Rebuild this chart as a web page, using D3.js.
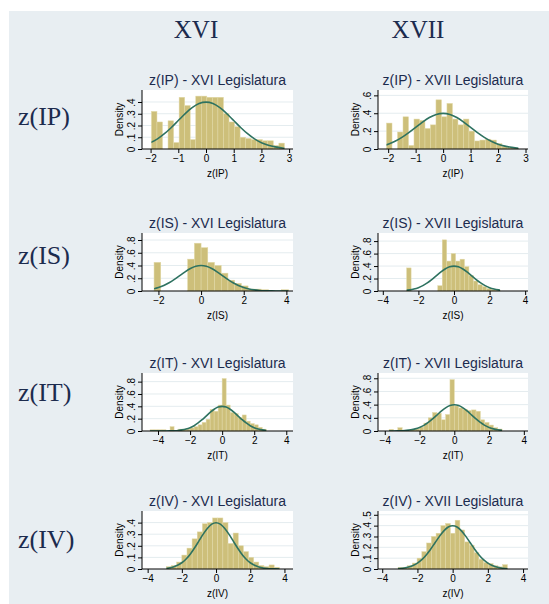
<!DOCTYPE html>
<html>
<head>
<meta charset="utf-8">
<script src="https://cdn.jsdelivr.net/npm/d3@7"></script>
<style>
  body { margin: 0; background: #fff; }
  svg { display: block; }
</style>
</head>
<body>
<svg id="chart"></svg>
<script>
// Data: panels in row-major order (IP XVI, IP XVII, IS XVI, IS XVII, IT XVI, IT XVII, IV XVI, IV XVII)
const variables = ["IP", "IS", "IT", "IV"];
const legislatures = ["XVI", "XVII"];

const binStarts = [-1.97, -2.06, -2.205, -2.66, -4.5, -3.75, -2.9, -3.1];
const binWidths = [0.2, 0.2, 0.315, 0.25, 0.25, 0.25, 0.3, 0.27];

const densities = [
    [0.32, 0.23, 0, 0.24, 0.055, 0.44, 0.37, 0.08, 0.45, 0.45, 0.44, 0.44, 0.44, 0.3, 0.23, 0.19, 0.1, 0.09, 0.08, 0.08, 0.07, 0.07, 0.03, 0.05],
    [0.29, 0, 0.19, 0.36, 0.04, 0.335, 0.32, 0.23, 0.27, 0.55, 0.36, 0.51, 0.335, 0.27, 0.335, 0.2, 0.09, 0.1, 0.11, 0.1, 0.06, 0.03, 0.02, 0.01],
    [0.45, 0, 0, 0, 0, 0.5, 0.75, 0.68, 0.45, 0.4, 0.28, 0.17, 0.12, 0.08, 0.03, 0.03, 0.02, 0, 0, 0.02],
    [0.37, 0, 0, 0, 0, 0, 0, 0.085, 0.82, 0.48, 0.6, 0.48, 0.51, 0.39, 0.25, 0.16, 0.1, 0.07, 0.04, 0.02, 0.01],
    [0.02, 0.02, 0.02, 0.02, 0, 0.07, 0, 0.03, 0.03, 0.03, 0.05, 0.07, 0.1, 0.14, 0.19, 0.35, 0.32, 0.42, 0.85, 0.42, 0.3, 0.28, 0.22, 0.26, 0.16, 0.12, 0.1, 0.06, 0.03],
    [0.025, 0, 0.05, 0.01, 0.01, 0.02, 0.03, 0.06, 0.12, 0.2, 0.28, 0.27, 0.17, 0.25, 0.78, 0.38, 0.35, 0.33, 0.31, 0.32, 0.3, 0.17, 0.13, 0.09, 0.05, 0.03],
    [0.02, 0.03, 0.06, 0.12, 0.18, 0.26, 0.32, 0.39, 0.4, 0.44, 0.44, 0.4, 0.22, 0.31, 0.2, 0.15, 0.1, 0.06, 0.03, 0.02, 0.035, 0.015],
    [0.015, 0.015, 0.03, 0.055, 0.1, 0.16, 0.24, 0.3, 0.33, 0.4, 0.42, 0.33, 0.45, 0.36, 0.25, 0.22, 0.15, 0.09, 0.06, 0.05, 0.03, 0.02, 0.04]
];

// normal density overlay, read at steps of 0.25 from -4.5 to 4.5
const normalX = [-4.5, -4.25, -4, -3.75, -3.5, -3.25, -3, -2.75, -2.5, -2.25, -2, -1.75, -1.5, -1.25, -1, -0.75, -0.5, -0.25, 0,
    0.25, 0.5, 0.75, 1, 1.25, 1.5, 1.75, 2, 2.25, 2.5, 2.75, 3, 3.25, 3.5, 3.75, 4, 4.25, 4.5];
const normalY = [0, 0, 0.0001, 0.0004, 0.0009, 0.002, 0.0044, 0.009, 0.018, 0.032, 0.054, 0.086, 0.13, 0.183, 0.242, 0.301, 0.352, 0.387, 0.399,
    0.387, 0.352, 0.301, 0.242, 0.183, 0.13, 0.086, 0.054, 0.032, 0.018, 0.009, 0.0044, 0.002, 0.0009, 0.0004, 0.0001, 0, 0];

const xTicks = [
    [-2, -1, 0, 1, 2, 3], [-2, -1, 0, 1, 2, 3],
    [-2, 0, 2, 4], [-4, -2, 0, 2, 4],
    [-4, -2, 0, 2, 4], [-4, -2, 0, 2, 4],
    [-4, -2, 0, 2, 4], [-4, -2, 0, 2, 4]
];
const yTicks = [
    [0, 0.1, 0.2, 0.3, 0.4], [0, 0.2, 0.4, 0.6],
    [0, 0.2, 0.4, 0.6, 0.8], [0, 0.2, 0.4, 0.6, 0.8],
    [0, 0.2, 0.4, 0.6, 0.8], [0, 0.2, 0.4, 0.6, 0.8],
    [0, 0.1, 0.2, 0.3, 0.4], [0, 0.1, 0.2, 0.3, 0.4, 0.5]
];
const xDomains = [[-2.31, 3.14], [-2.37, 3.09], [-2.77, 4.31], [-4.27, 4.16],
    [-5.0, 4.42], [-4.39, 4.24], [-4.33, 4.5], [-4.24, 4.28]];
const yMax = [0.502, 0.66, 0.91, 0.93, 0.94, 0.88, 0.50, 0.535];

// Layout
const W = 549, H = 604;
const colLeft = [142, 378], colRight = [293, 528];
const rowTop = [90, 233, 373, 511], rowBottom = [149, 291, 431, 569];
const headerX = [196, 418];
const rowLabelY = [125, 264, 401, 548];

const navy = "#1c2b4e";
const barFill = "#cdbf7a";
const curveColor = "#2e7260";
const sans = "Liberation Sans, Arial, sans-serif";

const svg = d3.select("#chart").attr("width", W).attr("height", H);

svg.append("rect").attr("width", W).attr("height", H).attr("fill", "#fff");
svg.append("rect").attr("x", 9).attr("y", 11).attr("width", W - 9).attr("height", H - 11).attr("fill", "#e8eef2");

// column headers
svg.selectAll(".header").data(legislatures).enter().append("text")
    .attr("x", (d, i) => headerX[i]).attr("y", 38)
    .attr("text-anchor", "middle")
    .attr("font-family", "Liberation Serif, Times New Roman, serif")
    .attr("font-size", 25).attr("fill", navy)
    .text(d => d);

// row labels
svg.selectAll(".rowlabel").data(variables).enter().append("text")
    .attr("x", 18).attr("y", (d, i) => rowLabelY[i])
    .attr("font-family", "Liberation Serif, Times New Roman, serif")
    .attr("font-size", 26).attr("fill", navy)
    .text(d => `z(${d})`);

const tickFmt = d => d === 0 ? "0" : d3.format(".1f")(d).replace(/^0/, "");

variables.forEach((v, r) => {
    legislatures.forEach((leg, c) => {
        const p = r * 2 + c;
        const left = colLeft[c], right = colRight[c];
        const top = rowTop[r], bottom = rowBottom[r];

        const x = d3.scaleLinear().domain(xDomains[p]).range([left, right]);
        const y = d3.scaleLinear().domain([0, yMax[p]]).range([bottom, top]);
        const g = svg.append("g");

        // plot region
        g.append("rect").attr("x", left).attr("y", top)
            .attr("width", right - left).attr("height", bottom - top)
            .attr("fill", "#fff");

        // grid
        g.selectAll(".grid").data(yTicks[p].filter(t => t > 0)).enter().append("line")
            .attr("x1", left).attr("x2", right)
            .attr("y1", d => y(d)).attr("y2", d => y(d))
            .attr("stroke", "#e4ecef").attr("stroke-width", 1);

        // bars
        const bins = densities[p].map((h, i) => ({
            x0: binStarts[p] + i * binWidths[p],
            x1: binStarts[p] + (i + 1) * binWidths[p],
            h: h
        })).filter(b => b.h > 0);

        g.selectAll(".bar").data(bins).enter().append("rect")
            .attr("x", d => x(d.x0))
            .attr("width", d => x(d.x1) - x(d.x0))
            .attr("y", d => y(d.h))
            .attr("height", d => y(0) - y(d.h))
            .attr("fill", barFill)
            .attr("stroke", "#e2d9a8").attr("stroke-width", 0.5);

        // normal curve, limited to the data range
        const lo = binStarts[p], hi = binStarts[p] + densities[p].length * binWidths[p];
        const clipId = "clip" + p;
        svg.append("clipPath").attr("id", clipId).append("rect")
            .attr("x", x(lo)).attr("y", top - 5)
            .attr("width", x(hi) - x(lo)).attr("height", bottom - top + 5);

        const line = d3.line()
            .x(d => x(d[0])).y(d => y(d[1]))
            .curve(d3.curveMonotoneX);
        g.append("path")
            .datum(normalX.map((xv, i) => [xv, normalY[i]]))
            .attr("clip-path", `url(#${clipId})`)
            .attr("d", line)
            .attr("fill", "none")
            .attr("stroke", curveColor).attr("stroke-width", 1.6);

        // axes
        const xAxis = g.append("g").attr("transform", `translate(0,${bottom})`)
            .call(d3.axisBottom(x).tickValues(xTicks[p]).tickSize(4).tickSizeOuter(0).tickFormat(d3.format("d")));
        xAxis.select(".domain").attr("d", `M${left},0H${right}`);
        const yAxis = g.append("g").attr("transform", `translate(${left},0)`)
            .call(d3.axisLeft(y).tickValues(yTicks[p]).tickSize(4).tickSizeOuter(0).tickFormat(tickFmt));
        yAxis.select(".domain").attr("d", `M0,${top}V${bottom}`);

        [xAxis, yAxis].forEach(a => {
            a.selectAll("path, line").attr("stroke", "#000");
            a.selectAll("text").attr("font-family", sans)
                .attr("font-size", 10).attr("fill", "#000");
        });
        xAxis.selectAll("text").attr("y", 6).attr("dy", "0.71em");
        // vertical y labels, like Stata
        yAxis.selectAll("text")
            .attr("x", null).attr("y", null)
            .attr("text-anchor", "middle")
            .attr("transform", "translate(-11,0) rotate(-90)")
            .attr("dy", "0.35em");

        // axis titles
        g.append("text")
            .attr("x", (left + right) / 2).attr("y", bottom + 28)
            .attr("text-anchor", "middle")
            .attr("font-family", sans)
            .attr("font-size", 10).attr("fill", "#000")
            .text(`z(${v})`);
        g.append("text")
            .attr("transform", `translate(${left - 23},${(top + bottom) / 2}) rotate(-90)`)
            .attr("text-anchor", "middle").attr("dy", "0.35em")
            .attr("font-family", sans)
            .attr("font-size", 10).attr("fill", "#000")
            .text("Density");

        // panel title
        g.append("text")
            .attr("x", (left + right) / 2).attr("y", top - 5)
            .attr("text-anchor", "middle")
            .attr("font-family", sans)
            .attr("font-size", 14).attr("fill", navy)
            .text(`z(${v}) - ${leg} Legislatura`);
    });
});
</script>
</body>
</html>
